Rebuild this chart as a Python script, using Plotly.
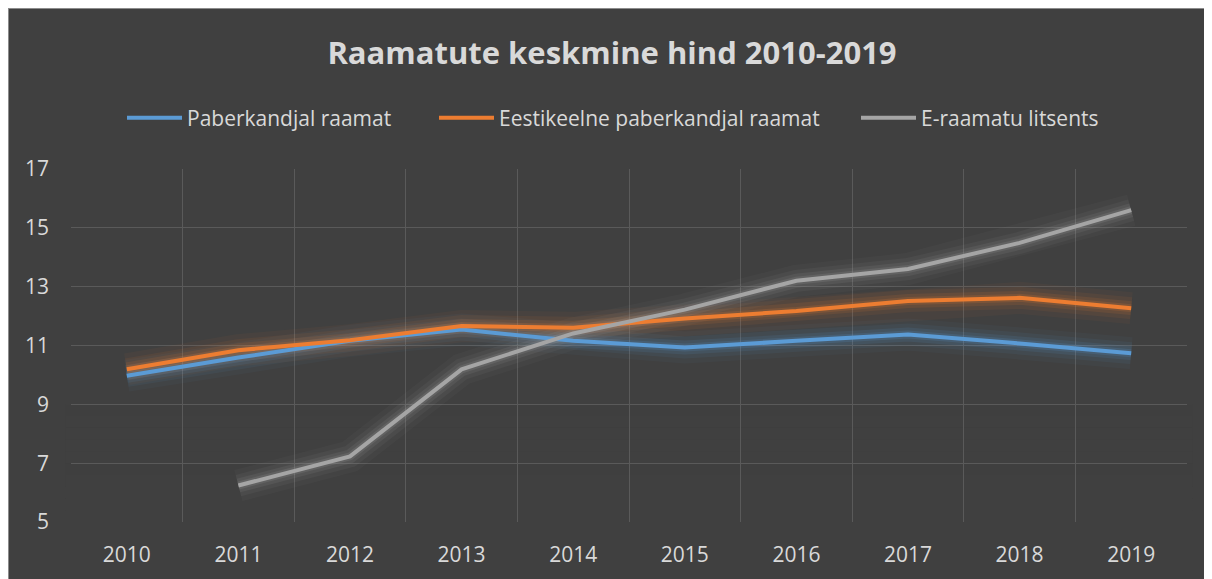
import plotly.graph_objects as go

years = ["2010", "2011", "2012", "2013", "2014", "2015", "2016", "2017", "2018", "2019"]
paber = [9.97, 10.59, 11.16, 11.54, 11.16, 10.93, 11.16, 11.37, 11.07, 10.74]
eesti = [10.19, 10.84, 11.18, 11.66, 11.60, 11.92, 12.17, 12.51, 12.62, 12.27]
eraamat = [None, 6.24, 7.23, 10.19, 11.41, 12.22, 13.20, 13.60, 14.49, 15.60]

series = [
    ("Paberkandjal raamat", paber, "#5B9BD5", "legend", 128),
    ("Eestikeelne paberkandjal raamat", eesti, "#ED7D31", "legend2", 440),
    ("E-raamatu litsents", eraamat, "#A5A5A5", "legend3", 862),
]

OFF = 8  # page body margin
W, H = 1212 - OFF, 579 - OFF
ML, MR, MT, MB = 71 - OFF, 25, 169 - OFF, 57
PW, PH = W - ML - MR, H - MT - MB
TXT = "#D9D9D9"
BG = "#404040"
FONT = "Open Sans"

fig = go.Figure()

# soft glow under each line
for name, vals, col, lg, lx in series:
    for w, op in [(32, 0.045), (22, 0.07), (14, 0.11), (8, 0.16)]:
        fig.add_trace(go.Scatter(x=years, y=vals, mode="lines", showlegend=False,
                                 hoverinfo="skip", opacity=op,
                                 line=dict(color=col, width=w)))

for name, vals, col, lg, lx in series:
    fig.add_trace(go.Scatter(x=years, y=vals, mode="lines", name=name, legend=lg,
                             line=dict(color=col, width=4)))

shapes = [
    dict(type="rect", xref="paper", yref="paper",
         x0=-ML / PW, x1=1 + (MR + 5) / PW, y0=-(MB + 5) / PH, y1=1 + MT / PH,
         fillcolor="rgba(0,0,0,0)", line=dict(color="#8C8C8C", width=2), layer="below"),
]
# fade of gridlines toward bottom
nb = 10
for i in range(nb):
    y0 = 5 + 4 * i / nb
    y1 = 5 + 4 * (i + 1) / nb
    op = min(1.0, max(0.0, 1.0 - (i + 0.5) / nb) * 1.35)
    shapes.append(dict(type="rect", xref="paper", yref="y", x0=-0.005, x1=1.005,
                       y0=y0, y1=y1, fillcolor=BG, opacity=op,
                       line=dict(width=0), layer="between"))

legends = {}
for name, vals, col, lg, lx in series:
    legends[lg] = dict(orientation="h", x=(lx - OFF - 6) / W, xanchor="left",
                       y=1 - (118 - OFF) / H, yanchor="middle",
                       xref="container", yref="container", itemwidth=55,
                       font=dict(family=FONT, size=21, color=TXT),
                       bgcolor="rgba(0,0,0,0)", borderwidth=0)

fig.update_layout(
    width=W, height=H,
    margin=dict(l=ML, r=MR, t=MT, b=MB),
    paper_bgcolor=BG,
    plot_bgcolor="rgba(0,0,0,0)",
    font=dict(family=FONT, color=TXT, size=21),
    title=dict(text="<b>Raamatute keskmine hind 2010-2019</b>",
               x=(612 - OFF) / W, xanchor="center", y=1 - (53 - OFF) / H, yanchor="middle",
               xref="container", yref="container",
               font=dict(family=FONT, size=31, color=TXT)),
    shapes=shapes,
    showlegend=True,
    **legends,
)
fig.update_xaxes(type="category", range=[-0.5, 9.5], tickson="boundaries", showgrid=True,
                 gridcolor="#5A5A5A", gridwidth=1, zeroline=False, showline=False,
                 ticks="", ticklabelstandoff=18,
                 tickfont=dict(family=FONT, size=21, color=TXT))
fig.update_yaxes(range=[5, 17], dtick=2, tick0=5, showgrid=True,
                 gridcolor="#5A5A5A", gridwidth=1, zeroline=False, showline=False,
                 ticks="", ticklabelstandoff=21,
                 tickfont=dict(family=FONT, size=21, color=TXT))

fig.write_html("out.html")
